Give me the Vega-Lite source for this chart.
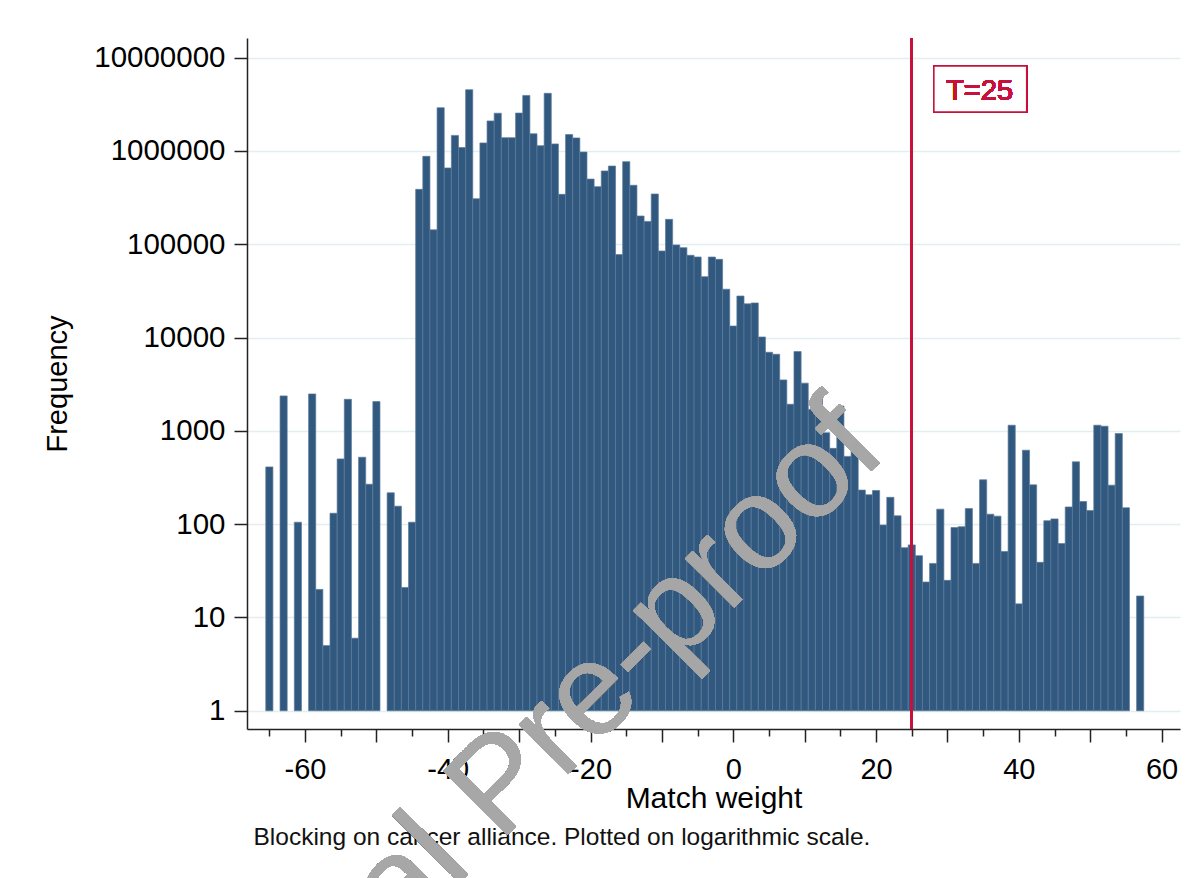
{
  "$schema": "https://vega.github.io/schema/vega-lite/v6.json",
  "autosize": "none",
  "width": 933,
  "height": 691,
  "padding": {"left": 247, "top": 38, "right": 20, "bottom": 149},
  "background": "white",
  "config": {"view": {"stroke": null}, "font": "Liberation Sans"},
  "resolve": {"axis": {"x": "independent"}},
  "data": {"values": [
    {"lo": -65.5, "hi": -64.5, "n": 411},
    {"lo": -63.5, "hi": -62.5, "n": 2371},
    {"lo": -61.5, "hi": -60.5, "n": 105},
    {"lo": -59.5, "hi": -58.5, "n": 2490},
    {"lo": -58.5, "hi": -57.5, "n": 20},
    {"lo": -57.5, "hi": -56.5, "n": 5},
    {"lo": -56.5, "hi": -55.5, "n": 131},
    {"lo": -55.5, "hi": -54.5, "n": 501},
    {"lo": -54.5, "hi": -53.5, "n": 2181},
    {"lo": -53.5, "hi": -52.5, "n": 6},
    {"lo": -52.5, "hi": -51.5, "n": 522},
    {"lo": -51.5, "hi": -50.5, "n": 268},
    {"lo": -50.5, "hi": -49.5, "n": 2061},
    {"lo": -48.5, "hi": -47.5, "n": 217},
    {"lo": -47.5, "hi": -46.5, "n": 156},
    {"lo": -46.5, "hi": -45.5, "n": 21},
    {"lo": -45.5, "hi": -44.5, "n": 105},
    {"lo": -44.5, "hi": -43.5, "n": 388000},
    {"lo": -43.5, "hi": -42.5, "n": 877000},
    {"lo": -42.5, "hi": -41.5, "n": 143000},
    {"lo": -41.5, "hi": -40.5, "n": 2910000},
    {"lo": -40.5, "hi": -39.5, "n": 658000},
    {"lo": -39.5, "hi": -38.5, "n": 1470000},
    {"lo": -38.5, "hi": -37.5, "n": 1090000},
    {"lo": -37.5, "hi": -36.5, "n": 4540000},
    {"lo": -36.5, "hi": -35.5, "n": 308000},
    {"lo": -35.5, "hi": -34.5, "n": 1220000},
    {"lo": -34.5, "hi": -33.5, "n": 2100000},
    {"lo": -33.5, "hi": -32.5, "n": 2540000},
    {"lo": -32.5, "hi": -31.5, "n": 1390000},
    {"lo": -31.5, "hi": -30.5, "n": 1390000},
    {"lo": -30.5, "hi": -29.5, "n": 2550000},
    {"lo": -29.5, "hi": -28.5, "n": 3940000},
    {"lo": -28.5, "hi": -27.5, "n": 1530000},
    {"lo": -27.5, "hi": -26.5, "n": 1140000},
    {"lo": -26.5, "hi": -25.5, "n": 4150000},
    {"lo": -25.5, "hi": -24.5, "n": 1190000},
    {"lo": -24.5, "hi": -23.5, "n": 343000},
    {"lo": -23.5, "hi": -22.5, "n": 1500000},
    {"lo": -22.5, "hi": -21.5, "n": 1380000},
    {"lo": -21.5, "hi": -20.5, "n": 975000},
    {"lo": -20.5, "hi": -19.5, "n": 500000},
    {"lo": -19.5, "hi": -18.5, "n": 415000},
    {"lo": -18.5, "hi": -17.5, "n": 611000},
    {"lo": -17.5, "hi": -16.5, "n": 690000},
    {"lo": -16.5, "hi": -15.5, "n": 77500},
    {"lo": -15.5, "hi": -14.5, "n": 769000},
    {"lo": -14.5, "hi": -13.5, "n": 429000},
    {"lo": -13.5, "hi": -12.5, "n": 201000},
    {"lo": -12.5, "hi": -11.5, "n": 176000},
    {"lo": -11.5, "hi": -10.5, "n": 346000},
    {"lo": -10.5, "hi": -9.5, "n": 84800},
    {"lo": -9.5, "hi": -8.5, "n": 185000},
    {"lo": -8.5, "hi": -7.5, "n": 98400},
    {"lo": -7.5, "hi": -6.5, "n": 92100},
    {"lo": -6.5, "hi": -5.5, "n": 76200},
    {"lo": -5.5, "hi": -4.5, "n": 73100},
    {"lo": -4.5, "hi": -3.5, "n": 45000},
    {"lo": -3.5, "hi": -2.5, "n": 73000},
    {"lo": -2.5, "hi": -1.5, "n": 69000},
    {"lo": -1.5, "hi": -0.5, "n": 33000},
    {"lo": -0.5, "hi": 0.5, "n": 13300},
    {"lo": 0.5, "hi": 1.5, "n": 27900},
    {"lo": 1.5, "hi": 2.5, "n": 23000},
    {"lo": 2.5, "hi": 3.5, "n": 23500},
    {"lo": 3.5, "hi": 4.5, "n": 10150},
    {"lo": 4.5, "hi": 5.5, "n": 6960},
    {"lo": 5.5, "hi": 6.5, "n": 6630},
    {"lo": 6.5, "hi": 7.5, "n": 3520},
    {"lo": 7.5, "hi": 8.5, "n": 1930},
    {"lo": 8.5, "hi": 9.5, "n": 7080},
    {"lo": 9.5, "hi": 10.5, "n": 3250},
    {"lo": 10.5, "hi": 11.5, "n": 1700},
    {"lo": 11.5, "hi": 12.5, "n": 2650},
    {"lo": 12.5, "hi": 13.5, "n": 955},
    {"lo": 13.5, "hi": 14.5, "n": 650},
    {"lo": 14.5, "hi": 15.5, "n": 1850},
    {"lo": 15.5, "hi": 16.5, "n": 533},
    {"lo": 16.5, "hi": 17.5, "n": 730},
    {"lo": 17.5, "hi": 18.5, "n": 232},
    {"lo": 18.5, "hi": 19.5, "n": 207},
    {"lo": 19.5, "hi": 20.5, "n": 230},
    {"lo": 20.5, "hi": 21.5, "n": 98},
    {"lo": 21.5, "hi": 22.5, "n": 194},
    {"lo": 22.5, "hi": 23.5, "n": 123},
    {"lo": 23.5, "hi": 24.5, "n": 56},
    {"lo": 24.5, "hi": 25.5, "n": 60},
    {"lo": 25.5, "hi": 26.5, "n": 46},
    {"lo": 26.5, "hi": 27.5, "n": 24},
    {"lo": 27.5, "hi": 28.5, "n": 38},
    {"lo": 28.5, "hi": 29.5, "n": 145},
    {"lo": 29.5, "hi": 30.5, "n": 25},
    {"lo": 30.5, "hi": 31.5, "n": 92},
    {"lo": 31.5, "hi": 32.5, "n": 94},
    {"lo": 32.5, "hi": 33.5, "n": 147},
    {"lo": 33.5, "hi": 34.5, "n": 38},
    {"lo": 34.5, "hi": 35.5, "n": 299},
    {"lo": 35.5, "hi": 36.5, "n": 128},
    {"lo": 36.5, "hi": 37.5, "n": 122},
    {"lo": 37.5, "hi": 38.5, "n": 51},
    {"lo": 38.5, "hi": 39.5, "n": 1150},
    {"lo": 39.5, "hi": 40.5, "n": 14},
    {"lo": 40.5, "hi": 41.5, "n": 621},
    {"lo": 41.5, "hi": 42.5, "n": 264},
    {"lo": 42.5, "hi": 43.5, "n": 39},
    {"lo": 43.5, "hi": 44.5, "n": 109},
    {"lo": 44.5, "hi": 45.5, "n": 114},
    {"lo": 45.5, "hi": 46.5, "n": 62},
    {"lo": 46.5, "hi": 47.5, "n": 153},
    {"lo": 47.5, "hi": 48.5, "n": 466},
    {"lo": 48.5, "hi": 49.5, "n": 175},
    {"lo": 49.5, "hi": 50.5, "n": 140},
    {"lo": 50.5, "hi": 51.5, "n": 1150},
    {"lo": 51.5, "hi": 52.5, "n": 1122},
    {"lo": 52.5, "hi": 53.5, "n": 262},
    {"lo": 53.5, "hi": 54.5, "n": 936},
    {"lo": 54.5, "hi": 55.5, "n": 150},
    {"lo": 56.5, "hi": 57.5, "n": 17}
  ]},
  "layer": [
    {
      "mark": {"type": "bar", "fill": "#31597f", "stroke": "#5b7a99", "strokeWidth": 0.7},
      "encoding": {
        "x": {
          "field": "lo", "type": "quantitative",
          "scale": {"domain": [-68.13, 62.58], "nice": false, "zero": false},
          "axis": {
            "orient": "bottom",
            "values": [-60, -50, -40, -30, -20, -10, 0, 10, 20, 30, 40, 50, 60],
            "tickSize": 13,
            "labelExpr": "datum.value % 20 === 0 ? '' + datum.value : ''",
            "title": "Match weight",
            "grid": false,
            "domainColor": "#222222", "domainWidth": 1.5,
            "tickColor": "#222222", "tickWidth": 1.5,
            "labelFont": "Liberation Sans", "labelFontSize": 29, "labelColor": "#000000", "labelPadding": 13,
            "labelFlush": false, "labelOverlap": false, "labelBound": false,
            "titleFont": "Liberation Sans", "titleFontSize": 30, "titleFontWeight": "normal", "titleColor": "#000000",
            "titleY": 54, "titleBaseline": "top"
          }
        },
        "x2": {"field": "hi"},
        "y": {
          "field": "n", "type": "quantitative",
          "scale": {"type": "log", "domain": [0.638, 16260000], "nice": false},
          "axis": {
            "values": [1, 10, 100, 1000, 10000, 100000, 1000000, 10000000],
            "labelExpr": "'' + datum.value",
            "title": "Frequency",
            "grid": true, "gridColor": "#e4eef0", "gridWidth": 1.5,
            "domainColor": "#222222", "domainWidth": 1.5,
            "tickColor": "#222222", "tickWidth": 1.5, "tickSize": 13,
            "labelFont": "Liberation Sans", "labelFontSize": 29.5, "labelColor": "#000000", "labelPadding": 9,
            "labelOverlap": false,
            "titleFont": "Liberation Sans", "titleFontSize": 29, "titleFontWeight": "normal", "titleColor": "#000000",
            "titleX": -175
          }
        },
        "y2": {"datum": 1}
      }
    },
    {
      "mark": {"type": "rule", "color": "#c8103c", "strokeWidth": 2},
      "encoding": {
        "x": {
          "datum": 25, "type": "quantitative",
          "axis": {
            "orient": "bottom",
            "values": [-65, -55, -45, -35, -25, -15, -5, 5, 15, 25, 35, 45, 55],
            "tickSize": 7, "tickColor": "#222222", "tickWidth": 1.5,
            "labels": false, "domain": false, "grid": false,
            "title": "Blocking on cancer alliance. Plotted on logarithmic scale.",
            "titleFont": "Liberation Sans", "titleFontSize": 24.5, "titleFontWeight": "normal", "titleColor": "#111111",
            "titleX": 6, "titleY": 96, "titleAlign": "left", "titleBaseline": "top"
          }
        }
      }
    },
    {
      "mark": {"type": "rect", "fill": "white", "stroke": "#c8103c", "strokeWidth": 1.5},
      "encoding": {"x": {"datum": 28.1, "axis": null}, "x2": {"datum": 41.1}, "y": {"datum": 8150000}, "y2": {"datum": 2620000}}
    },
    {
      "mark": {"type": "text", "text": "T=25", "font": "Liberation Sans", "fontSize": 29, "color": "#c8103c", "align": "center", "baseline": "alphabetic"},
      "encoding": {"x": {"datum": 34.5, "axis": null}, "y": {"datum": 3520000}}
    },
    {
      "mark": {"type": "text", "text": "Journal Pre-proof", "font": "Liberation Sans", "angle": -45, "fontSize": 132, "color": "#a7a7a7", "opacity": 0.72, "align": "right", "baseline": "alphabetic"},
      "encoding": {"x": {"datum": 21.8, "axis": null}, "y": {"datum": 575}}
    }
  ]
}
